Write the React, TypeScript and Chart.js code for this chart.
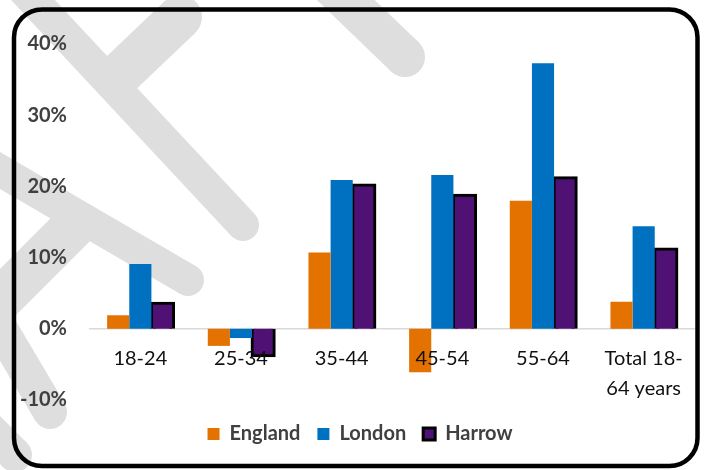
import React, { useEffect, useRef } from "react";
import { Chart, registerables } from "chart.js";

Chart.register(...registerables);

const categories: (string | string[])[] = ["18-24", "25-34", "35-44", "45-54", "55-64", ["Total 18-", "64 years"]];
const seriesNames = ["England", "London", "Harrow"];
const england = [1.9, -2.4, 10.7, -6.1, 18.0, 3.8];
const london = [9.1, -1.3, 20.9, 21.6, 37.3, 14.4];
const harrow = [3.6, -3.8, 20.2, 18.75, 21.2, 11.2];
const yMin = -10;
const yMax = 40;
const yStep = 10;

const colors = {
  england: "#E47200",
  london: "#0070C0",
  harrow: "#4F1174",
};

const framePlugin = {
  id: "frame",
  afterLayout(chart: any) {
    const lg = chart.legend;
    if (lg) {
      lg.left += 7;
      lg.right += 7;
      lg.top += 7;
      lg.bottom += 7;
    }
  },
  beforeDraw(chart: any) {
    const ctx = chart.ctx as CanvasRenderingContext2D;
    ctx.save();
    ctx.fillStyle = "#ffffff";
    ctx.fillRect(0, 0, chart.width, chart.height);
    // faint decorative watermark strokes (butt start, rounded end)
    ctx.strokeStyle = "#dedede";
    ctx.fillStyle = "#dedede";
    ctx.lineCap = "butt";
    const strokes: number[][] = [
      [5, -30, 243, 225, 32],
      [118, 76, 180, 17, 44],
      [325, -20, 405, 57, 40],
      [-30, 153, 188, 280, 32],
      [80, 220, -20, 320, 44],
      [-25, 285, 50, 412, 34],
      [-20, 420, 15, 455, 34],
    ];
    for (const [x1, y1, x2, y2, w] of strokes) {
      ctx.lineWidth = w;
      ctx.beginPath();
      ctx.moveTo(x1, y1);
      ctx.lineTo(x2, y2);
      ctx.stroke();
      ctx.beginPath();
      ctx.arc(x2, y2, w / 2, 0, Math.PI * 2);
      ctx.fill();
    }
    // rounded black frame
    ctx.strokeStyle = "#000000";
    ctx.lineWidth = 4.5;
    ctx.beginPath();
    (ctx as any).roundRect(14, 9.5, 683.5, 456.5, 28);
    ctx.stroke();
    ctx.restore();
  },
};

export default function App() {
  const ref = useRef<HTMLCanvasElement>(null);

  useEffect(() => {
    document.body.style.margin = "0";
    const canvas = ref.current;
    if (!canvas) return;
    const chart = new Chart(canvas, {
      type: "bar",
      data: {
        labels: categories,
        datasets: [
          {
            label: seriesNames[0],
            data: england,
            backgroundColor: colors.england,
            borderWidth: 0,
          },
          {
            label: seriesNames[1],
            data: london,
            backgroundColor: colors.london,
            borderWidth: 0,
          },
          {
            label: seriesNames[2],
            data: harrow,
            backgroundColor: colors.harrow,
            borderColor: "#000000",
            borderWidth: 3,
            inflateAmount: 1.5,
          } as any,
        ],
      },
      options: {
        responsive: false,
        animation: false,
        devicePixelRatio: 1,
        categoryPercentage: 0.66,
        barPercentage: 1.0,
        layout: {
          padding: { left: 12, right: 14, top: 44, bottom: 23 },
        },
        plugins: {
          tooltip: { enabled: false },
          legend: {
            position: "bottom",
            labels: {
              boxWidth: 12,
              boxHeight: 12,
              padding: 17,
              color: "#404040",
              font: { family: "Lato", size: 20, weight: "bold" },
            },
          },
        },
        scales: {
          x: {
            position: { y: 0 } as any,
            afterFit: (scale: any) => {
              scale.height = 0;
            },
            grid: { display: false, drawTicks: false },
            border: { display: true, color: "#d9d9d9", width: 1.5 },
            ticks: {
              z: 1,
              color: "#111111",
              padding: 15,
              maxRotation: 0,
              autoSkip: false,
              font: { family: "Lato", size: 20, lineHeight: 1.5 },
            },
          },
          y: {
            min: yMin,
            max: yMax,
            afterFit: (scale: any) => {
              scale.width = 78;
            },
            grid: { display: false, drawTicks: false },
            border: { display: false },
            ticks: {
              stepSize: yStep,
              padding: 23,
              color: "#404040",
              font: { family: "Lato", size: 20, weight: "bold" },
              callback: (v: any) => `${v}%`,
            },
          },
        },
      },
      plugins: [framePlugin],
    });
    return () => chart.destroy();
  }, []);

  return <canvas ref={ref} width={708} height={470} style={{ display: "block" }} />;
}
